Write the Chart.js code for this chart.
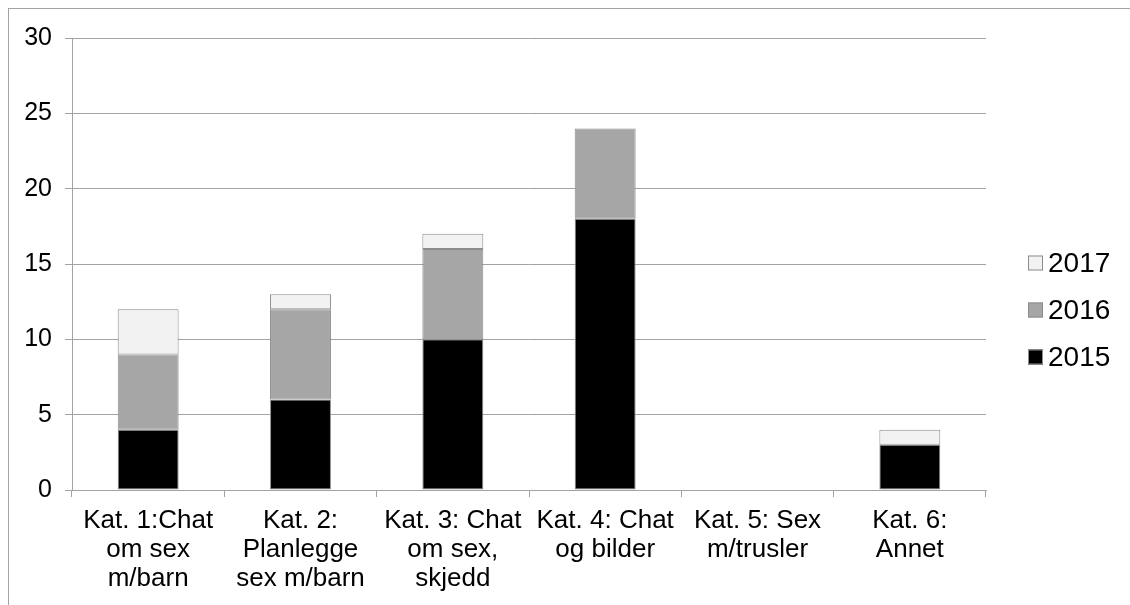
<!DOCTYPE html>
<html>
<head>
<meta charset="utf-8">
<script src="https://cdn.jsdelivr.net/npm/chart.js@4.4.1/dist/chart.umd.min.js"></script>
<style>
  html, body { margin: 0; padding: 0; background: #ffffff; overflow: hidden; }
  #wrap { position: relative; width: 1130px; height: 605px; overflow: hidden; }
  #frame { position: absolute; left: 8px; top: 8px; width: 1400px; height: 900px; border: 1px solid #a3a3a3; box-sizing: border-box; }
  canvas { position: absolute; left: 0; top: 0; }
</style>
</head>
<body>
<div id="wrap">
  <div id="frame"></div>
  <canvas id="c" width="1130" height="605"></canvas>
</div>
<script>
const categories = [
  ["Kat. 1:Chat", "om sex", "m/barn"],
  ["Kat. 2:", "Planlegge", "sex m/barn"],
  ["Kat. 3: Chat", "om sex,", "skjedd"],
  ["Kat. 4: Chat", "og bilder"],
  ["Kat. 5: Sex", "m/trusler"],
  ["Kat. 6:", "Annet"]
];
const values2015 = [4, 6, 10, 18, 0, 3];
const values2016 = [5, 6, 6, 6, 0, 0];
const values2017 = [3, 1, 1, 0, 0, 1];
const yTicks = [0, 5, 10, 15, 20, 25, 30];

const FONT = "'Liberation Sans', Arial, sans-serif";
const GRID = '#a3a3a3';

const customLegend = {
  id: 'customLegend',
  afterDraw(chart) {
    const ctx = chart.ctx;
    const ds = chart.data.datasets.slice().reverse();
    const x = 1028, y0 = 263, step = 47, box = 15;
    ctx.save();
    ctx.font = "28px " + FONT;
    ctx.textBaseline = 'middle';
    ctx.textAlign = 'left';
    ds.forEach((d, i) => {
      const cy = y0 + i * step;
      ctx.fillStyle = d.backgroundColor;
      ctx.fillRect(x, cy - box / 2, box, box);
      ctx.strokeStyle = '#8c8c8c';
      ctx.lineWidth = 1;
      ctx.strokeRect(x + 0.5, cy - box / 2 + 0.5, box - 1, box - 1);
      ctx.fillStyle = '#000000';
      ctx.fillText(d.label, x + box + 5, cy + 1);
    });
    ctx.restore();
  }
};

new Chart(document.getElementById('c'), {
  type: 'bar',
  data: {
    labels: categories,
    datasets: [
      { label: '2015', data: values2015, backgroundColor: '#000000', borderColor: '#8c8c8c', borderWidth: 1, borderSkipped: false },
      { label: '2016', data: values2016, backgroundColor: '#a6a6a6', borderColor: '#8c8c8c', borderWidth: 1, borderSkipped: false },
      { label: '2017', data: values2017, backgroundColor: '#f2f2f2', borderColor: '#8c8c8c', borderWidth: 1, borderSkipped: false }
    ]
  },
  options: {
    responsive: false,
    animation: false,
    events: [],
    layout: { padding: { left: 0, right: 144, top: 38, bottom: 0 } },
    datasets: { bar: { categoryPercentage: 1.0, barPercentage: 0.4 } },
    plugins: { legend: { display: false }, tooltip: { enabled: false }, title: { display: false } },
    scales: {
      x: {
        stacked: true,
        grid: { display: true, drawOnChartArea: false, drawTicks: true, tickLength: 7, color: GRID, offset: true },
        border: { display: true, color: GRID, width: 1 },
        ticks: { color: '#000000', font: { family: FONT, size: 26, lineHeight: 1.12 }, padding: 9, maxRotation: 0, autoSkip: false },
        afterFit(scale) { scale.height = 115; }
      },
      y: {
        stacked: true,
        min: 0, max: 30,
        afterBuildTicks(scale) { scale.ticks = yTicks.map(v => ({ value: v })); },
        grid: { display: true, drawOnChartArea: true, drawTicks: true, tickLength: 7, color: GRID },
        border: { display: true, color: GRID, width: 1 },
        ticks: { color: '#000000', font: { family: FONT, size: 25 }, padding: 13 },
        afterFit(scale) { scale.width = 72; }
      }
    }
  },
  plugins: [customLegend]
});
</script>
</body>
</html>
